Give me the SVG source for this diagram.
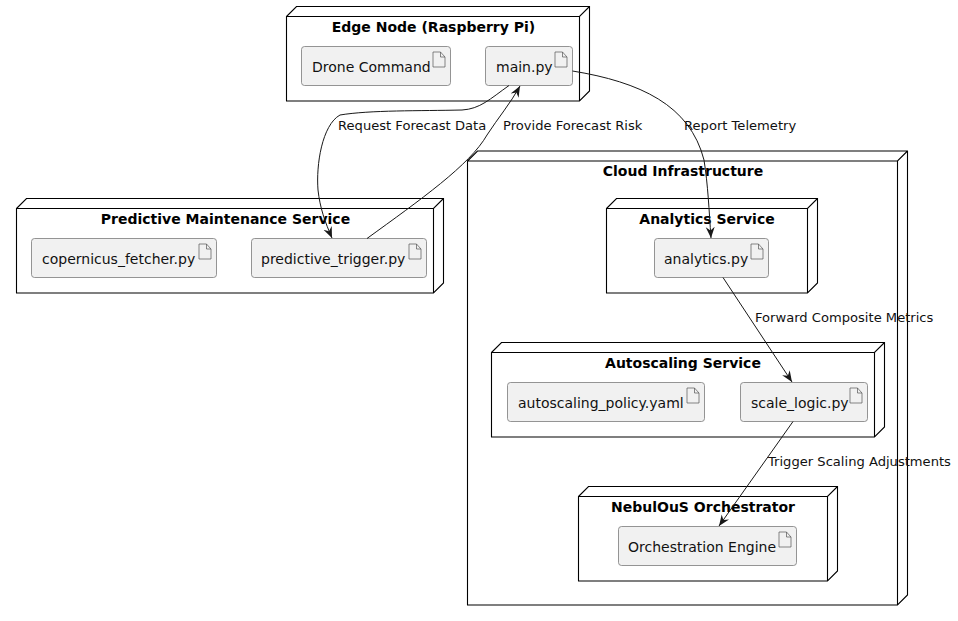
<svg xmlns="http://www.w3.org/2000/svg" width="958" height="621" viewBox="0 0 958 621">
<style>
text{font-family:"DejaVu Sans",sans-serif;fill:#000}
.t{font-size:14px;font-weight:700;text-anchor:middle}
.a{font-size:14px;fill:#111}
.l{font-size:13.1px;fill:#111}
.n{fill:#fff;stroke:#000;stroke-width:1.1}
.b{fill:#f1f1f1;stroke:#7a7a7a;stroke-width:.8}
.f{fill:#f1f1f1;stroke:#555;stroke-width:.7}
.c{fill:none;stroke:#181818;stroke-width:1}
</style>
<defs>
<marker id="arr" markerUnits="userSpaceOnUse" markerWidth="14" markerHeight="12" refX="11" refY="6" orient="auto"><path d="M0 1.500L11 6L0 10.500L3.500 6Z" fill="#181818"/></marker>
<g id="doc"><path class="f" d="M0 0H7.500L12 5V15H0Z M7.500 0V5H12"/></g>
</defs>
<g id="cloud"><path class="n" d="M467.500 161L477.500 151H907.500V595L897.500 605H467.500Z M467.500 161H897.500L907.500 151 M897.500 161V605"/><text class="t" x="683" y="176">Cloud Infrastructure</text></g>
<g id="edge"><path class="n" d="M286.500 16.500L296.500 6.500H589.500V91L579.500 101H286.500Z M286.500 16.500H579.500L589.500 6.500 M579.500 16.500V101"/><text class="t" x="433.500" y="32">Edge Node (Raspberry Pi)</text></g>
<g id="predictive"><path class="n" d="M16.500 208.500L26.500 198.500H443.500V283L433.500 293H16.500Z M16.500 208.500H433.500L443.500 198.500 M433.500 208.500V293"/><text class="t" x="225.500" y="224">Predictive Maintenance Service</text></g>
<g id="analytics"><path class="n" d="M606.500 208.500L616.500 198.500H817.500V283L807.500 293H606.500Z M606.500 208.500H807.500L817.500 198.500 M807.500 208.500V293"/><text class="t" x="707" y="224">Analytics Service</text></g>
<g id="autoscaling"><path class="n" d="M491.500 352.500L501.500 342.500H884.500V427L874.500 437H491.500Z M491.500 352.500H874.500L884.500 342.500 M874.500 352.500V437"/><text class="t" x="683" y="368">Autoscaling Service</text></g>
<g id="nebulous"><path class="n" d="M578.500 496.500L588.500 486.500H837.500V571L827.500 581H578.500Z M578.500 496.500H827.500L837.500 486.500 M827.500 496.500V581"/><text class="t" x="703" y="512">NebulOuS Orchestrator</text></g>
<g id="drone"><rect class="b" x="301.500" y="46.500" width="149" height="39" rx="3"/><text class="a" x="312" y="72">Drone Command</text><use href="#doc" x="433" y="52"/></g>
<g id="main"><rect class="b" x="485.500" y="46.500" width="87" height="39" rx="3"/><text class="a" x="496" y="72">main.py</text><use href="#doc" x="555" y="52"/></g>
<g id="copernicus"><rect class="b" x="31.500" y="238.500" width="185" height="39" rx="3"/><text class="a" x="42" y="264">copernicus_fetcher.py</text><use href="#doc" x="199" y="244"/></g>
<g id="trigger"><rect class="b" x="251.500" y="238.500" width="175" height="39" rx="3"/><text class="a" x="261" y="264">predictive_trigger.py</text><use href="#doc" x="409" y="244"/></g>
<g id="analyticspy"><rect class="b" x="654.500" y="238.500" width="114" height="39" rx="3"/><text class="a" x="664" y="264">analytics.py</text><use href="#doc" x="751" y="244"/></g>
<g id="policy"><rect class="b" x="507.500" y="382.500" width="197" height="39" rx="3"/><text class="a" x="518" y="408">autoscaling_policy.yaml</text><use href="#doc" x="687" y="388"/></g>
<g id="scale"><rect class="b" x="740.500" y="382.500" width="127" height="39" rx="3"/><text class="a" x="751" y="408">scale_logic.py</text><use href="#doc" x="850" y="388"/></g>
<g id="engine"><rect class="b" x="618.500" y="526.500" width="178" height="39" rx="3"/><text class="a" x="628" y="552">Orchestration Engine</text><use href="#doc" x="779" y="532"/></g>
<g id="connectors">
<path class="c" marker-end="url(#arr)" d="M509 85.500C490 99 480 109 462 110C420 111 370 110 340 115C322 125 316 165 318 190C320 208 325 222 332 238"/>
<path class="c" marker-end="url(#arr)" d="M367 238.500C420 200 470 165 487 135C498 118 510 104 520 86"/>
<path class="c" marker-end="url(#arr)" d="M572.500 71C640 82 690 105 704 160C708 185 709 210 711 238"/>
<path class="c" marker-end="url(#arr)" d="M723 277.500L792 382"/>
<path class="c" marker-end="url(#arr)" d="M793 421.500L719 526"/>
</g>
<g id="labels">
<text class="l" x="338" y="130">Request Forecast Data</text>
<text class="l" x="503" y="130">Provide Forecast Risk</text>
<text class="l" x="684" y="130">Report Telemetry</text>
<text class="l" x="755" y="322">Forward Composite Metrics</text>
<text class="l" x="768" y="466">Trigger Scaling Adjustments</text>
</g>
</svg>
